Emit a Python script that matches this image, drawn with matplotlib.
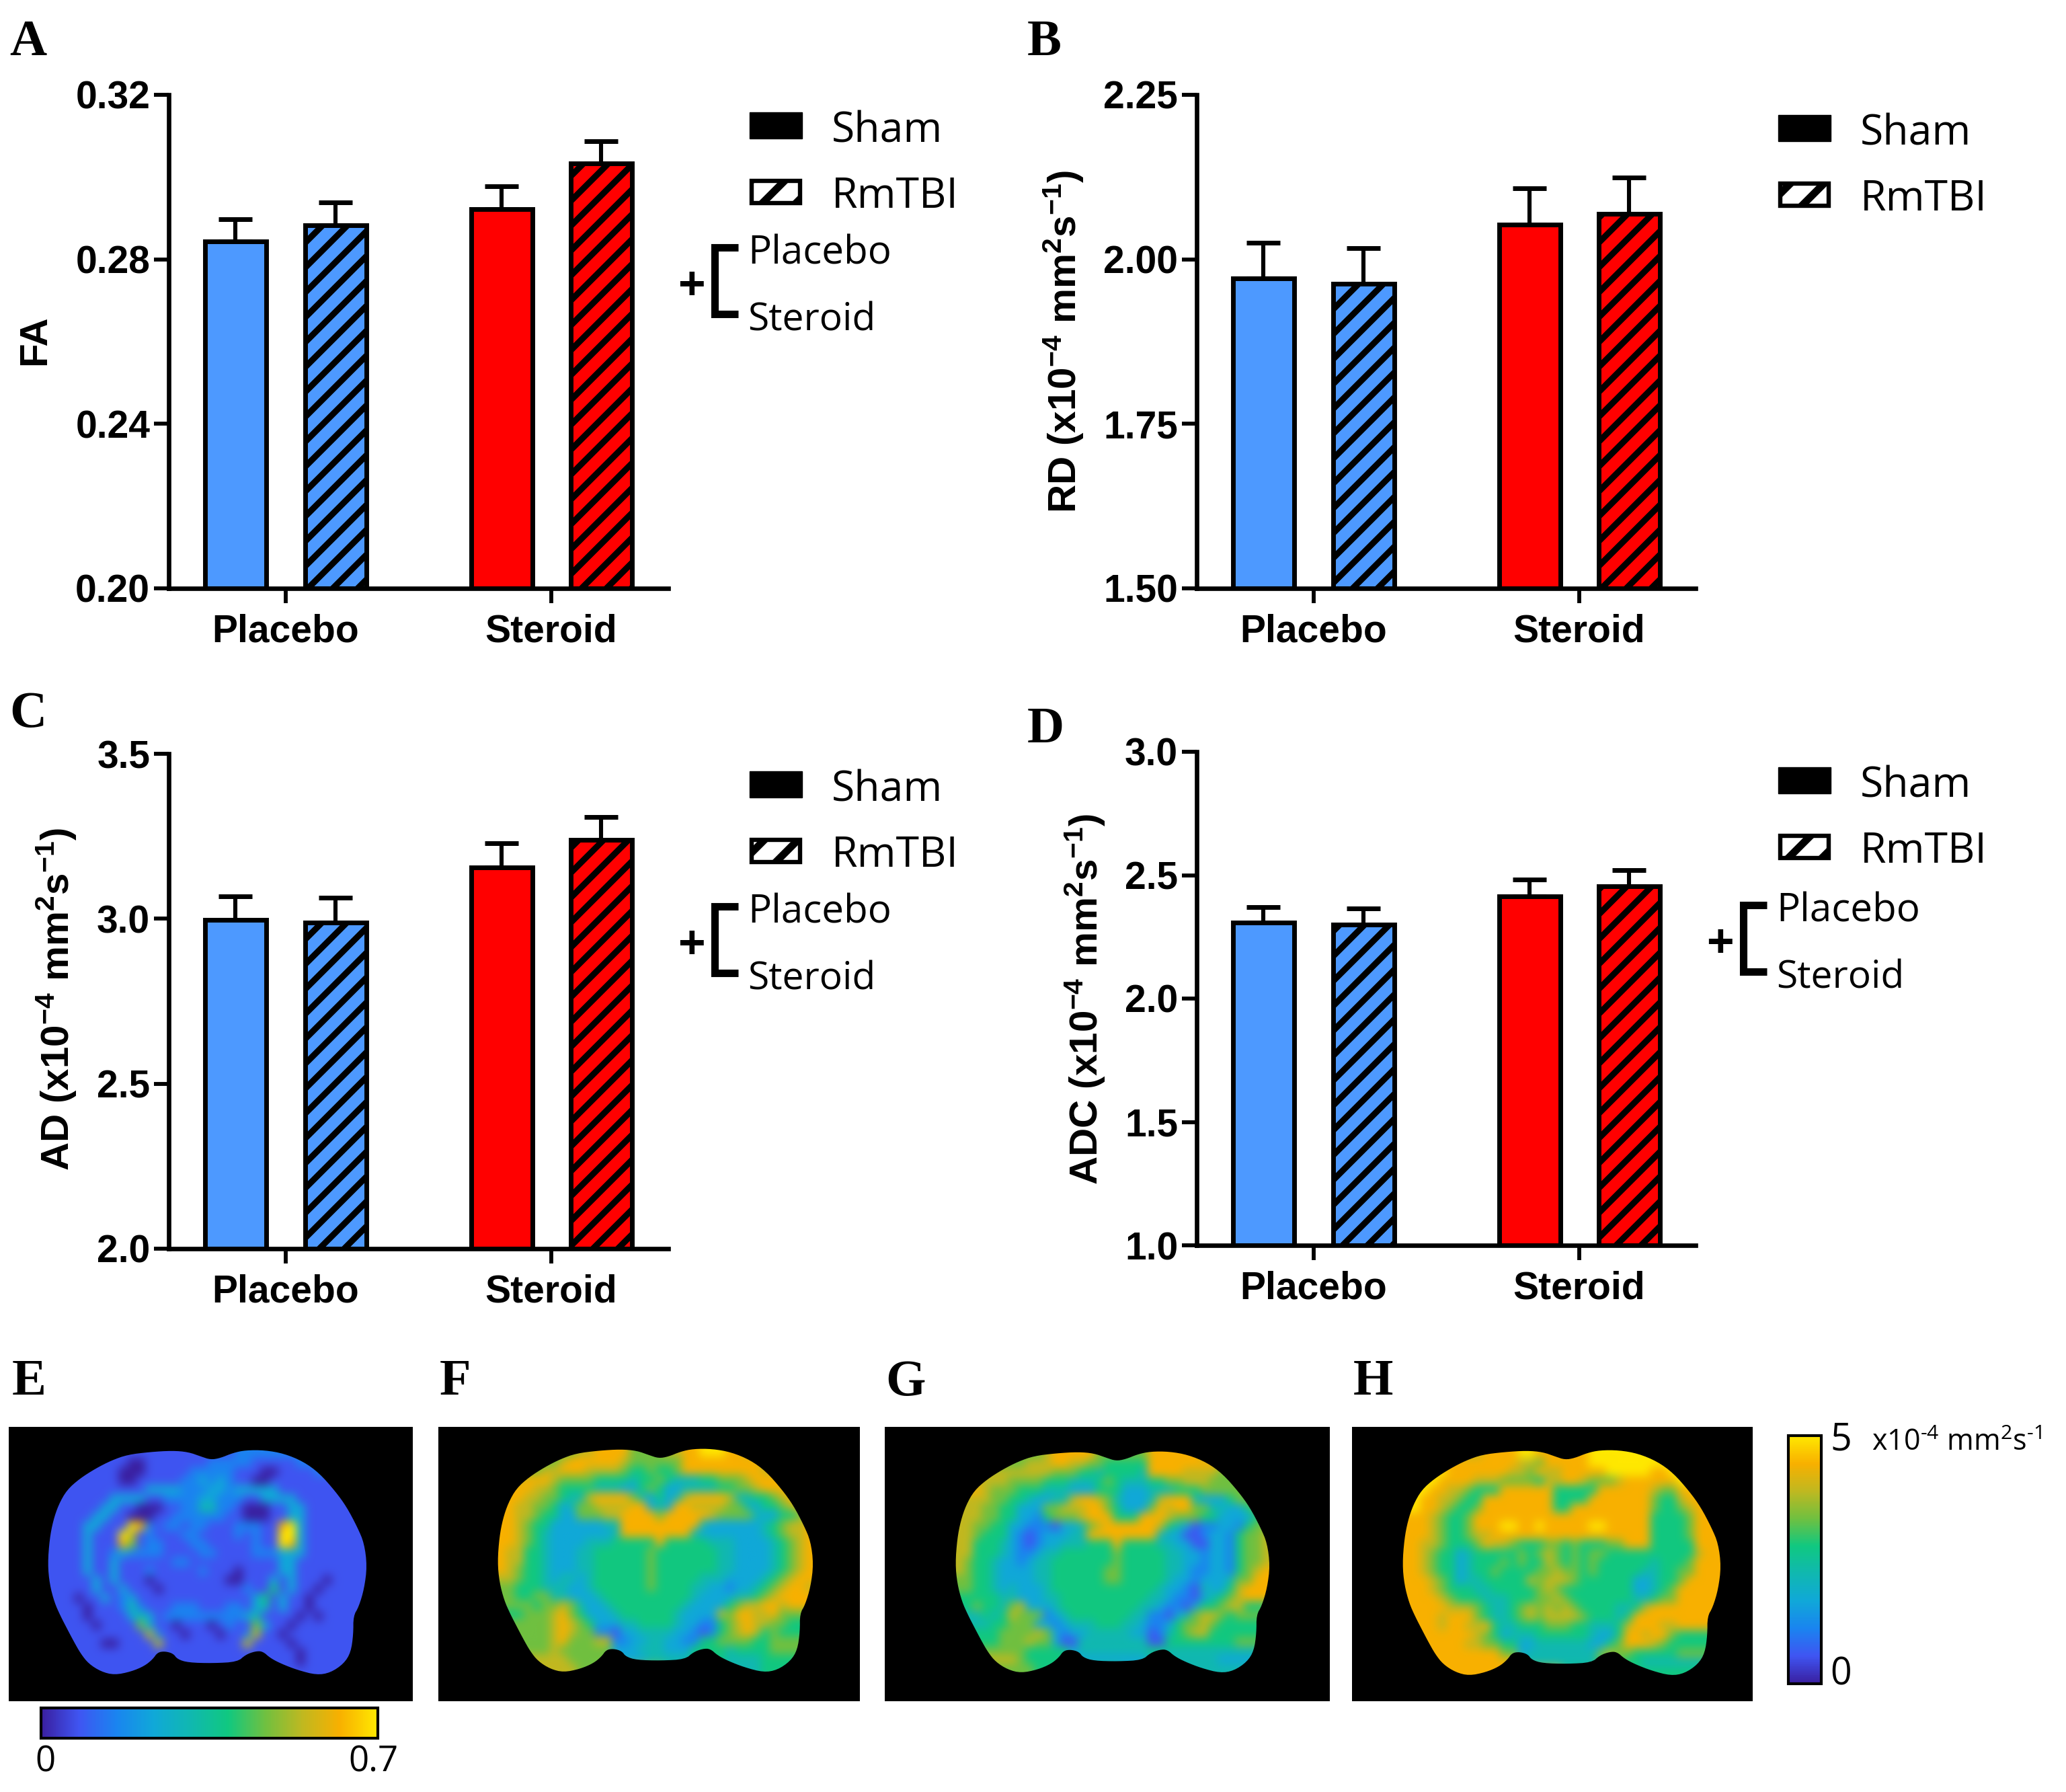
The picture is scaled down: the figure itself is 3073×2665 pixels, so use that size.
import numpy as np
import matplotlib
matplotlib.use("Agg")
import matplotlib.pyplot as plt
from matplotlib.cm import ScalarMappable
from matplotlib.collections import LineCollection
from matplotlib.colors import LinearSegmentedColormap, Normalize
from matplotlib.patches import Polygon, Rectangle
from matplotlib.transforms import IdentityTransform

W, H = 3073, 2665
plt.rcParams['font.family'] = 'Liberation Sans'
plt.rcParams['mathtext.fontset'] = 'custom'
plt.rcParams['mathtext.rm'] = 'Open Sans'
plt.rcParams['mathtext.bf'] = 'Liberation Sans:bold'

# bar data, order: sham placebo, rmtbi placebo, sham steroid, rmtbi steroid
fa_mean = [0.2843, 0.2883, 0.2922, 0.3033]
fa_err = [0.0054, 0.0056, 0.0055, 0.0054]
fa_ticks = [0.20, 0.24, 0.28, 0.32]

rd_mean = [1.971, 1.963, 2.053, 2.069]
rd_err = [0.054, 0.054, 0.055, 0.055]
rd_ticks = [1.50, 1.75, 2.00, 2.25]

ad_mean = [2.996, 2.988, 3.156, 3.240]
ad_err = [0.072, 0.076, 0.072, 0.068]
ad_ticks = [2.0, 2.5, 3.0, 3.5]

adc_mean = [2.307, 2.301, 2.413, 2.456]
adc_err = [0.064, 0.064, 0.070, 0.064]
adc_ticks = [1.0, 1.5, 2.0, 2.5, 3.0]

groups = ["Placebo", "Steroid"]
legend_groups = ["Sham", "RmTBI"]

# maps on a coarse grid, 0-9 along the colour scale, . = outside
map_e = [
    "........111111111...1222222.........",
    "......11100111111.2.22211111222.....",
    "....111100011111222.2111001111222...",
    "..11111100111112232321100111111111..",
    "..1111111113333222332333331111111...",
    ".11111133331122223322211333311111...",
    ".1111133110001122442210001133111111.",
    "111113311000112222221100011331111111",
    "111133111982122122111222118931111111",
    "111131119712111221111212119931111111",
    "111131118612211122111112119831111111",
    "111131123222211112211112223331111111",
    "111131131111112211111111113311111111",
    "111131131112111112111011113311111111",
    "111113131110111111110011131311101111",
    ".11113113111011111111121151311011111",
    ".11011312311111111111113513110111111",
    "..1101112421112221112213413110111...",
    "..1101111343122222222234111101011...",
    "...11011116311011101211631101111....",
    "....1111111721101110112711011111....",
    "....11001111711111111171111011111...",
    ".....1111111.11111111.1111110111....",
    "......11111....1111.....11110111....",
    ".......111.................111......",
]
map_f = [
    "........6778888666..788999887.......",
    "......6788888876666.688888888877....",
    "....67788877776556556888888888777...",
    "..78887666655554556544455666788887..",
    ".88877655554443356533444455667888...",
    ".8877665447888864353478888744556788.",
    "88776653466777788343887777664355678.",
    "887765533666778888688888766664335567",
    "887655333333448888888884333333456778",
    "887654333333348888888843333333456778",
    "887654333344455555855555444333345678",
    "877554333445555556555555544333345678",
    "877554333445555556555555544333345678",
    "876554333445555556555555544333345678",
    ".76554344345555556555554443333456788",
    ".65554443345555556555544332334567887",
    ".6556644333455555555554333344567888.",
    "..66566764334555555554333356778878..",
    "..5666786533345555554333376887786...",
    "...6667876533344555543322567877665..",
    "....66787662213344443321256787565...",
    ".....678666772233443322556666556....",
    ".....6766666.33344433.5555455556....",
    "......77666....3344.....5544445.....",
    ".......7766................4445.....",
]
map_g = [
    ".........678888866...688888877......",
    ".......67778877665555.88888888776...",
    ".....77777766655455554888877776666..",
    "...77766665554445654445566777666....",
    "..8766655544433355533344455566666...",
    "..77665543344788764333478884333566..",
    ".7766553336677788653336878866443356.",
    ".77665533256667888555888766655333356",
    "776655332221334678888887543122332566",
    "776555321233344888888884331123325667",
    "775554321233444555855554433113325667",
    "775554322344555555655555443323325667",
    "765543323445555555655555443323325667",
    "765543333445555556655555443223325678",
    ".65543333445555556655555433233346688",
    ".65543433345555555555554332143357888",
    ".5555443334455555555554432213456788.",
    ".5655467333455555555544322135567755.",
    "..45457666234555555544221346776566..",
    "...455666332344455544322356676555...",
    "...5566667632334444433124567755555..",
    "....56667663114444444411555555556...",
    ".....6665555.34444444.554444444.....",
    "......76555....3333.....4444443.....",
    ".......665.................444......",
]
map_h = [
    "........788889988...8999999998......",
    "......8888888776888.8999999999988...",
    "....9888888877687788.88999998899....",
    "..9988887776666577887666788888899...",
    "..98877655588888855555888888766889..",
    ".9887765588888888555588888886557888.",
    ".98876556888888885588888888865567888",
    "888765568888888888888888888855556888",
    "888765568889988988888998888855556888",
    "888765567788888888888888888855556888",
    "887765556877655566565556688855555888",
    "887655345555565676565665555555555788",
    "887655345556565576565655555545556888",
    "887655345565555667665655555445566888",
    ".88765344555557677765555553345568888",
    ".8876555445555567655555555334568888.",
    ".88876555444555667655555554456688888",
    "..8887776544567676765555445788888...",
    "..887888654456767777655545888888...",
    "...87887785445556665544457888778....",
    "....8888765344455555543358878865....",
    ".....887766553344444433568887655....",
    ".....8888886.34444444.6766555556....",
    "......8888.....4444.....655444......",
    ".......88..................5555.....",
]
# outline of the slice, fractions of its bounding box
outline_u = [.51, .48, .44, .39, .32, .25, .20, .15, .10, .06, .034, .017, .006, 0, .006, .021,
             .04, .062, .081, .103, .128, .167, .209, .261, .303, .329, .344, .367, .393, .406,
             .44, .517, .594, .62, .65, .673, .697, .731, .782, .842, .885, .927, .949, .957,
             .957, .974, .991, 1.0, .991, .97, .936, .90, .85, .80, .74, .68, .62, .58, .54]
outline_v = [.047, .033, .013, .007, .013, .025, .05, .086, .131, .181, .246, .317, .397, .508,
             .598, .679, .739, .799, .85, .905, .95, .985, 1.0, .985, .96, .93, .9, .895, .905,
             .93, .945, .948, .942, .91, .895, .895, .925, .95, .978, 1.0, .99, .95, .9, .82,
             .739, .698, .618, .518, .417, .347, .256, .186, .106, .055, .02, .005, .005, .017, .04]

scale_colors = ["#3a1fa0", "#3f55f2", "#1a84f0", "#10a8d8", "#10b8b0",
                "#10c880", "#70c040", "#c0b820", "#f8b000", "#ffe800"]
parula = LinearSegmentedColormap.from_list("parula_like", scale_colors)
blue = "#4d99ff"
red = "#ff0000"

fig = plt.figure(figsize=(W / 100, H / 100), dpi=100)


def place(left, top, right, bottom):
    return fig.add_axes([left / W, 1 - bottom / H, (right - left) / W, (bottom - top) / H])


over = fig.add_axes([0, 0, 1, 1], zorder=10)
over.set_xlim(0, W)
over.set_ylim(H, 0)
over.axis("off")
over.patch.set_alpha(0)


def stripes(ax, patch, step=37.0, lw=6.6):
    # thick 45 degree lines, matplotlib hatches are too fine for this
    box = patch.get_window_extent()
    segs = []
    for c in np.arange(-W, H, step) + 2:
        segs.append([(box.x0 - 5, box.x0 - 5 + c), (box.x1 + 5, box.x1 + 5 + c)])
    lc = LineCollection(segs, colors="black", linewidths=lw, transform=IdentityTransform(), zorder=3)
    ax.add_collection(lc, autolim=False)
    lc.set_clip_path(patch)


def bar_panel(rect, mean, err, ticks, fmt):
    ax = place(*rect)
    ax.set_xlim(0, rect[2] - rect[0])
    ax.set_ylim(ticks[0], ticks[-1])
    xpos = [99, 248, 495, 643]
    colors = [blue, blue, red, red]
    heights = np.array(mean) - ticks[0]
    ax.errorbar(xpos, mean, yerr=[np.zeros(4), err], fmt="none", ecolor="black", elinewidth=4.4,
                capsize=18, capthick=5, zorder=1)
    bars = ax.bar(xpos, heights, width=91, bottom=ticks[0], color=colors, zorder=2)
    for i in (1, 3):
        stripes(ax, bars[i])
    ax.bar(xpos, heights, width=91, bottom=ticks[0], fill=False, edgecolor="black", linewidth=5, zorder=4)
    for s in ("top", "right"):
        ax.spines[s].set_visible(False)
    for s in ("left", "bottom"):
        ax.spines[s].set_linewidth(4.8)
    ax.spines["bottom"].set_zorder(5)
    ax.set_yticks(ticks)
    ax.set_yticklabels([fmt % t for t in ticks], fontsize=41, fontweight="bold")
    ax.set_xticks([173.5, 569])
    ax.set_xticklabels(groups, fontsize=41, fontweight="bold")
    ax.tick_params(axis="y", length=16, width=4.2, pad=4)
    ax.tick_params(axis="x", length=16, width=4.2, pad=11)
    return ax


def legend_block(dx, dy, bracket=True, bdy=0):
    over.add_patch(Rectangle((1115 + dx, 167 + dy), 78, 39, facecolor="black", edgecolor="black"))
    sw = Rectangle((1118 + dx, 269 + dy), 72, 33, facecolor="white", edgecolor="black", linewidth=4.6)
    over.add_patch(sw)
    stripes(over, sw, step=50.0, lw=8)
    over.text(1237 + dx, 188 + dy, legend_groups[0], fontsize=45, family="Open Sans", va="center_baseline")
    over.text(1237 + dx, 285 + dy, legend_groups[1], fontsize=45, family="Open Sans", va="center_baseline")
    if bracket:
        over.plot([1098 + dx, 1063 + dx, 1063 + dx, 1098 + dx],
                  [368 + bdy, 368 + bdy, 467 + bdy, 467 + bdy],
                  color="black", lw=8, solid_joinstyle="miter", solid_capstyle="butt")
        over.text(1112 + dx, 370 + bdy, groups[0], fontsize=42, family="Open Sans", va="center_baseline")
        over.text(1112 + dx, 470 + bdy, groups[1], fontsize=41, family="Open Sans", va="center_baseline")
        over.text(1028 + dx, 419 + bdy, "+", fontsize=50, fontweight="bold", ha="center", va="center_baseline")


bar_panel((251, 141, 994, 875), fa_mean, fa_err, fa_ticks, "%.2f")
bar_panel((1780, 141, 2522, 875), rd_mean, rd_err, rd_ticks, "%.2f")
bar_panel((251, 1121, 994, 1857), ad_mean, ad_err, ad_ticks, "%.1f")
bar_panel((1780, 1118, 2522, 1852), adc_mean, adc_err, adc_ticks, "%.1f")

legend_block(0, 0, bdy=0)
legend_block(1530, 4, bracket=False)
legend_block(0, 980, bdy=980)
legend_block(1530, 974, bdy=978)

sup = r"$\mathbf{^{-4}}$ mm$\mathbf{^{2}}$s$\mathbf{^{-1}}$)"
for x, y, lab in [(52, 506, "FA"), (1582, 508, "RD (x10" + sup), (84, 1486, "AD (x10" + sup),
                  (1614, 1486, "ADC (x10" + sup)]:
    over.text(x, y, lab, rotation=90, fontsize=42, fontweight="bold", ha="center", va="center")


def chaikin(pts, n=2):
    for _ in range(n):
        nxt = np.roll(pts, -1, axis=0)
        pts = np.column_stack([0.75 * pts + 0.25 * nxt, 0.25 * pts + 0.75 * nxt]).reshape(-1, 2)
    return pts


def brain(panel, bbox, rows):
    ax = place(*panel)
    ax.set_facecolor("black")
    vals = np.array([[np.nan if ch == "." else float(ch) for ch in r.ljust(36, ".")[:36]] for r in rows])
    # outside cells take the nearest value of their row, the outline does the cutting
    for row in vals:
        good = np.flatnonzero(~np.isnan(row))
        for j in np.flatnonzero(np.isnan(row)):
            row[j] = row[good[np.argmin(np.abs(good - j))]]
    rgb = parula(Normalize(0, 9)(vals))[:, :, :3]
    im = ax.imshow(rgb, extent=(bbox[0], bbox[1], bbox[3], bbox[2]), interpolation="bicubic", aspect="auto")
    ax.set_xlim(panel[0], panel[2])
    ax.set_ylim(panel[3], panel[1])
    pts = np.column_stack([bbox[0] + np.array(outline_u) * (bbox[1] - bbox[0]),
                           bbox[2] + np.array(outline_v) * (bbox[3] - bbox[2])])
    edge = Polygon(chaikin(pts), closed=True, transform=ax.transData, facecolor="none", edgecolor="none")
    ax.add_patch(edge)
    im.set_clip_path(edge)
    ax.set_xticks([])
    ax.set_yticks([])
    for s in ax.spines.values():
        s.set_visible(False)


brain((13, 2122, 614, 2530), (71, 546, 2155, 2491), map_e)
brain((652, 2122, 1279, 2530), (740, 1210, 2153, 2487), map_f)
brain((1316, 2122, 1978, 2530), (1421, 1889, 2157, 2488), map_g)
brain((2011, 2122, 2607, 2530), (2086, 2560, 2155, 2492), map_h)

for rect, orient, vmax in [((61, 2540, 562, 2585), "horizontal", 0.7), ((2660, 2135, 2709, 2504), "vertical", 5)]:
    cax = place(*rect)
    cb = fig.colorbar(ScalarMappable(Normalize(0, vmax), parula), cax=cax, orientation=orient)
    cb.set_ticks([])
    cb.outline.set_linewidth(3)

over.text(67, 2621, "0", fontsize=38, family="Open Sans", ha="center", va="center")
over.text(555, 2621, "0.7", fontsize=38, family="Open Sans", ha="center", va="center")
over.text(2738, 2142, "5", fontsize=40, family="Open Sans", ha="center", va="center")
over.text(2738, 2491, "0", fontsize=40, family="Open Sans", ha="center", va="center")
over.text(2784, 2146, r"x10$^{\text{-4}}$ mm$^{2}$s$^{\text{-1}}$", fontsize=31, family="Open Sans", va="center")

for x, y, letter in [(14, 55, "A"), (1528, 56, "B"), (14, 1055, "C"), (1528, 1078, "D"),
                     (18, 2048, "E"), (654, 2048, "F"), (1317, 2048, "G"), (2013, 2048, "H")]:
    over.text(x, y, letter, fontsize=55, fontweight="bold", family="Liberation Serif", va="center_baseline")

fig.savefig("out.png", dpi=100)
